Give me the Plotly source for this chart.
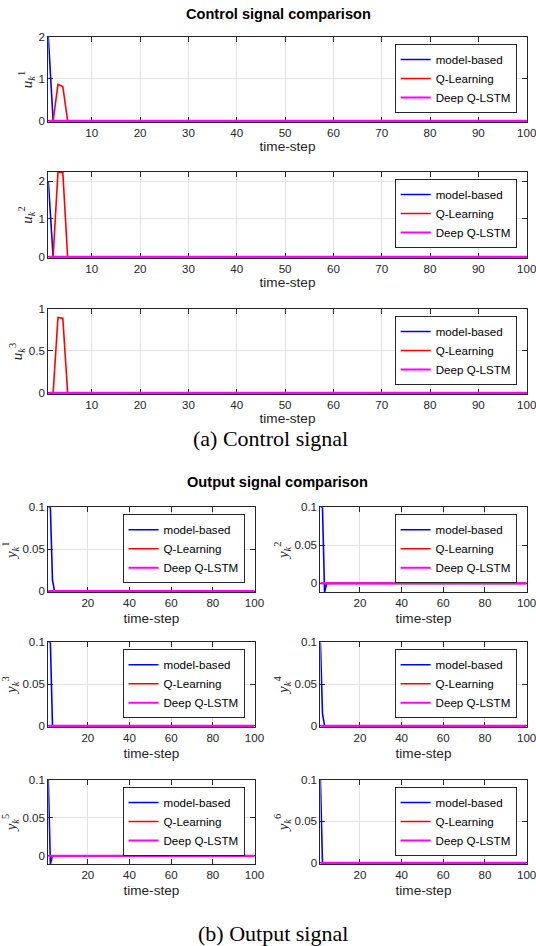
import plotly.graph_objects as go

W, H = 536, 946
N_STEPS = 100
steps = list(range(1, N_STEPS + 1))


def settle(head):
    # after the transient shown in `head`, every remaining step sits at zero
    return head + [0.0] * (N_STEPS - len(head))


series_names = ["model-based", "Q-Learning", "Deep Q-LSTM"]
series_colors = ["#0000ff", "#ff0000", "#ff00ff"]
series_widths = [1.6, 1.6, 2.0]

# ---- control signals u_k^i ----
u1_model = settle([2.0, 0.0])
u1_qlearn = settle([0.0, 0.0, 0.87, 0.82, 0.0])
u1_dqlstm = settle([0.0])

u2_model = settle([2.0, 0.0])
u2_qlearn = settle([0.0, 0.0, 2.24, 2.23, 0.0])
u2_dqlstm = settle([0.0])

u3_model = settle([0.0])
u3_qlearn = settle([0.0, 0.0, 0.90, 0.89, 0.0])
u3_dqlstm = settle([0.0])

# ---- outputs y_k^i ----
y1_model = settle([0.1, 0.1, 0.013, 0.0])
y2_model = settle([0.1, 0.1, -0.0118, 0.0])
y3_model = settle([0.1, 0.1, 0.0])
y4_model = settle([0.1, 0.0145, 0.0])
y5_model = settle([0.1, -0.011, 0.0])
y6_model = settle([0.1, 0.0])
y_qlearn = settle([0.0])
y_dqlstm = settle([0.0])

control_xticks = [10, 20, 30, 40, 50, 60, 70, 80, 90, 100]
output_xticks = [20, 40, 60, 80, 100]

# panel geometry in pixels: (left, right, top, bottom)
TOP_X = (48.3, 526.7)
LEFT_X = (48.3, 254.5)
RIGHT_X = (320.4, 526.6)
ROW_Y = [(507.3, 592.3), (642.3, 727.0), (780.0, 864.0)]

panels = [
    dict(x=TOP_X, y=(37.0, 122.0), yr=(0.0, 2.0), yt=[0, 1, 2], xt=control_xticks, so=1,
         lab="<i>u</i><sub><i>k</i></sub><sup>1</sup>", data=[u1_model, u1_qlearn, u1_dqlstm]),
    dict(x=TOP_X, y=(172.0, 258.0), yr=(0.0, 2.24), yt=[0, 1, 2], xt=control_xticks, so=1,
         lab="<i>u</i><sub><i>k</i></sub><sup>2</sup>", data=[u2_model, u2_qlearn, u2_dqlstm]),
    dict(x=TOP_X, y=(309.0, 394.0), yr=(0.0, 1.0), yt=[0, 0.5, 1], xt=control_xticks, so=1,
         lab="<i>u</i><sub><i>k</i></sub><sup>3</sup>", data=[u3_model, u3_qlearn, u3_dqlstm]),
    dict(x=LEFT_X, y=ROW_Y[0], yr=(0.0, 0.1), yt=[0, 0.05, 0.1], xt=output_xticks, so=5,
         lab="<i>y</i><sub><i>k</i></sub><sup>1</sup>", data=[y1_model, y_qlearn, y_dqlstm]),
    dict(x=RIGHT_X, y=ROW_Y[0], yr=(-0.0118, 0.1), yt=[0, 0.05, 0.1], xt=output_xticks, so=5,
         lab="<i>y</i><sub><i>k</i></sub><sup>2</sup>", data=[y2_model, y_qlearn, y_dqlstm]),
    dict(x=LEFT_X, y=ROW_Y[1], yr=(0.0, 0.1), yt=[0, 0.05, 0.1], xt=output_xticks, so=5,
         lab="<i>y</i><sub><i>k</i></sub><sup>3</sup>", data=[y3_model, y_qlearn, y_dqlstm]),
    dict(x=RIGHT_X, y=ROW_Y[1], yr=(0.0, 0.1), yt=[0, 0.05, 0.1], xt=output_xticks, so=5,
         lab="<i>y</i><sub><i>k</i></sub><sup>4</sup>", data=[y4_model, y_qlearn, y_dqlstm]),
    dict(x=LEFT_X, y=ROW_Y[2], yr=(-0.011, 0.1), yt=[0, 0.05, 0.1], xt=output_xticks, so=5,
         lab="<i>y</i><sub><i>k</i></sub><sup>5</sup>", data=[y5_model, y_qlearn, y_dqlstm]),
    dict(x=RIGHT_X, y=ROW_Y[2], yr=(0.0, 0.1), yt=[0, 0.05, 0.1], xt=output_xticks, so=5,
         lab="<i>y</i><sub><i>k</i></sub><sup>6</sup>", data=[y6_model, y_qlearn, y_dqlstm]),
]

SANS = "Liberation Sans, Arial, Helvetica, sans-serif"
SERIF = "Liberation Serif, Times New Roman, serif"
INK = "#262626"
GRID = "#e3e3e3"

fig = go.Figure()
layout = dict(
    template="none",
    width=W, height=H, margin=dict(l=0, r=0, t=0, b=0, pad=0), autosize=False,
    paper_bgcolor="white", plot_bgcolor="white",
    font=dict(family=SANS, color=INK),
)

for i, p in enumerate(panels, start=1):
    sfx = "" if i == 1 else str(i)
    xa, ya, lg = "x" + sfx, "y" + sfx, "legend" + sfx
    for name, color, lw, vals in zip(series_names, series_colors, series_widths, p["data"]):
        fig.add_trace(go.Scatter(
            x=steps, y=vals, mode="lines", name=name,
            line=dict(color=color, width=lw),
            xaxis=xa, yaxis=ya, legend=lg, hoverinfo="skip",
        ))

    left, right = p["x"]
    top, bottom = p["y"]
    lo, hi = p["yr"]
    # a little room under a zero floor so the flat traces stay fully visible
    pad = (hi - lo) * 1.2 / (bottom - top) if lo == 0 else 0.0

    common = dict(
        showgrid=True, gridcolor=GRID, gridwidth=1, zeroline=False,
        showline=True, linecolor=INK, linewidth=1, mirror="ticks",
        ticks="inside", ticklen=5, tickcolor=INK, tickwidth=1,
        tickfont=dict(family=SANS, size=11.6, color=INK),
        layer="below traces", automargin=False, ticklabeloverflow="allow",
    )
    layout["xaxis" + sfx] = dict(
        common, domain=[left / W, right / W], anchor=ya,
        range=[1, N_STEPS], tickvals=p["xt"],
        title=dict(text="time-step", font=dict(family=SANS, size=13.6, color=INK),
                   standoff=p["so"]),
    )
    layout["yaxis" + sfx] = dict(
        common, domain=[1 - bottom / H, 1 - top / H], anchor=xa,
        range=[lo - pad, hi], tickvals=p["yt"],
        title=dict(text=p["lab"], font=dict(family=SERIF, size=15, color=INK), standoff=2),
    )
    layout[lg] = dict(
        x=(right - 10) / W, y=1 - (top + 7) / H, xanchor="right", yanchor="top",
        bgcolor="white", bordercolor=INK, borderwidth=1,
        font=dict(family=SANS, size=11.6, color="#000000"),
        tracegroupgap=0,
    )

texts = [
    ("<b>Control signal comparison</b>", 278, 14, SANS, 14.6, "#000000"),
    ("(a) Control signal", 270, 438, SERIF, 22, "#000000"),
    ("<b>Output signal comparison</b>", 277, 482, SANS, 14.6, "#000000"),
    ("(b) Output signal", 273, 933, SERIF, 22, "#000000"),
]
layout["annotations"] = [
    dict(text=t, x=x / W, y=1 - y / H, xref="paper", yref="paper",
         xanchor="center", yanchor="middle", showarrow=False,
         font=dict(family=f, size=s, color=c))
    for t, x, y, f, s, c in texts
]

fig.update_layout(**layout)
fig.write_html("out.html")
